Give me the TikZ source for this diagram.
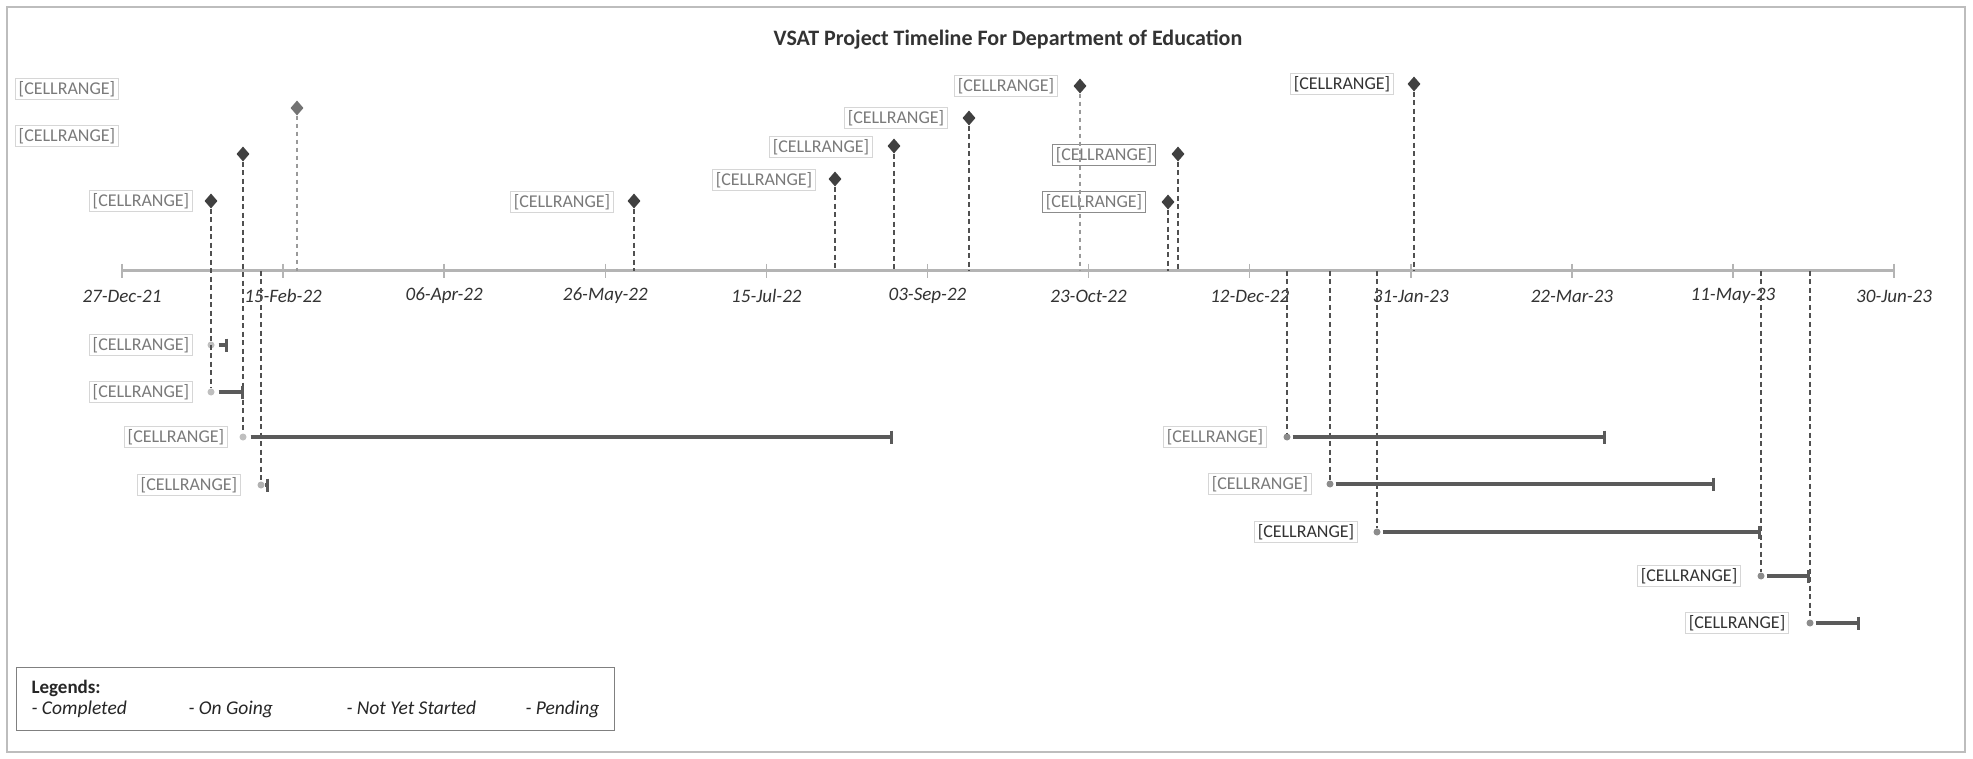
\documentclass[tikz,border=0pt]{standalone}
\usepackage{fontspec}
\setmainfont{Carlito}
\usetikzlibrary{shapes.geometric,arrows.meta}
\definecolor{axisgray}{HTML}{B4B4B4}
\definecolor{framegray}{HTML}{BDBDBD}
\definecolor{dropgray}{HTML}{505050}
\definecolor{bargray}{HTML}{5A5A5A}
\definecolor{celltext}{HTML}{7A7A7A}
\definecolor{cellframe}{HTML}{D6D6D6}
\begin{document}
\begin{tikzpicture}[x=1pt,y=-1pt,
  cellbox/.style={draw=cellframe, line width=0.8pt, inner sep=3pt, text=celltext,
    font=\fontsize{18}{20}\selectfont},
  cellboxdark/.style={cellbox, draw=black!45},
  ticklab/.style={font=\fontsize{19}{21}\selectfont\itshape, text=black!80},
  diamondmk/.style={diamond, fill=black!75, draw=none, minimum width=13pt,
    minimum height=15pt, inner sep=0pt},
  dropline/.style={draw=dropgray, line width=1.5pt, dash pattern=on 5pt off 3.5pt},
  droplight/.style={draw=black!40, line width=1.3pt, dash pattern=on 4pt off 4pt},
  startmk/.style={circle, fill=black!45, draw=none, minimum size=7pt, inner sep=0pt},
  barline/.style={draw=bargray, line width=3.5pt, -{Bar[width=13pt,line width=3pt]}},
  legtext/.style={font=\fontsize{19.5}{22}\selectfont\itshape, text=black!85, anchor=base west},
]
\useasboundingbox (0,0) rectangle (1973,759);
\fill[white] (0,0) rectangle (1973,759);
% outer frame
\draw[framegray, line width=1.2pt] (7,7) rectangle (1965,752);

% title
\node[font=\fontsize{22}{26}\selectfont\bfseries, text=black!80] (title) at (1008,40)
  {VSAT Project Timeline For Department of Education};

% axis
\coordinate (axL) at (122,271);
\coordinate (axR) at (1894,271);
\draw[axisgray, line width=3pt] (axL) -- (axR);
\foreach \i/\d in {0/27-Dec-21,1/15-Feb-22,2/06-Apr-22,3/26-May-22,4/15-Jul-22,5/03-Sep-22,
                   6/23-Oct-22,7/12-Dec-22,8/31-Jan-23,9/22-Mar-23,10/11-May-23,11/30-Jun-23}{
  \pgfmathsetmacro{\xx}{122+161.1*\i}
  \draw[axisgray, line width=1.5pt] (\xx,264) -- (\xx,278);
  \node[ticklab] (t\i) at (\xx,296) {\d};
}

% axis anchor points for drop lines
\foreach \n/\x in {aa/297,ad/634,ae/835,af/894,ag/969,ah/1080,ai/1178,aj/1168,ak/1414,
                   ard/261,are/1287,arf/1330,arg/1377,arh/1761,ari/1810}{
  \coordinate (\n) at (\x,271);
}

% top labels
\node[cellbox] (l1) at (67,89) {[CELLRANGE]};
\node[cellbox] (l2) at (67,136) {[CELLRANGE]};
\node[cellbox] (l3) at (141,201) {[CELLRANGE]};
\node[cellbox] (l4) at (562,202) {[CELLRANGE]};
\node[cellbox] (l5) at (764,180) {[CELLRANGE]};
\node[cellbox] (l6) at (821,147) {[CELLRANGE]};
\node[cellbox] (l7) at (896,118) {[CELLRANGE]};
\node[cellbox] (l8) at (1006,86) {[CELLRANGE]};
\node[cellboxdark] (l9) at (1104,155) {[CELLRANGE]};
\node[cellboxdark] (l10) at (1094,202) {[CELLRANGE]};
\node[cellbox, text=black!80] (l11) at (1342,84) {[CELLRANGE]};

% diamonds
\node[diamondmk, fill=black!55] (da) at (297,108) {};
\node[diamondmk] (db) at (243,154) {};
\node[diamondmk] (dc) at (211,201) {};
\node[diamondmk] (dd) at (634,201) {};
\node[diamondmk] (de) at (835,179) {};
\node[diamondmk] (df) at (894,146) {};
\node[diamondmk] (dg) at (969,118) {};
\node[diamondmk] (dh) at (1080,86) {};
\node[diamondmk] (di) at (1178,154) {};
\node[diamondmk] (dj) at (1168,202) {};
\node[diamondmk] (dk) at (1414,84) {};

% bottom labels
\node[cellbox] (ra) at (141,345) {[CELLRANGE]};
\node[cellbox] (rb) at (141,392) {[CELLRANGE]};
\node[cellbox] (rc) at (176,437) {[CELLRANGE]};
\node[cellbox] (rd) at (189,485) {[CELLRANGE]};
\node[cellbox] (re) at (1215,437) {[CELLRANGE]};
\node[cellbox] (rf) at (1260,484) {[CELLRANGE]};
\node[cellbox, text=black!80] (rg) at (1306,532) {[CELLRANGE]};
\node[cellbox, text=black!80] (rh) at (1689,576) {[CELLRANGE]};
\node[cellbox, text=black!80] (ri) at (1737,623) {[CELLRANGE]};

% start markers
\node[startmk, fill=black!25] (sa) at (211,345) {};
\node[startmk, fill=black!25] (sb) at (211,392) {};
\node[startmk, fill=black!25] (sc) at (243,437) {};
\node[startmk, fill=black!30] (sd) at (261,485) {};
\node[startmk] (se) at (1287,437) {};
\node[startmk] (sf) at (1330,484) {};
\node[startmk] (sg) at (1377,532) {};
\node[startmk] (sh) at (1761,576) {};
\node[startmk] (si) at (1810,623) {};

% end points
\coordinate (ea) at (228,345);
\coordinate (eb) at (244,392);
\coordinate (ec) at (893,437);
\coordinate (ed) at (269,485);
\coordinate (ee) at (1606,437);
\coordinate (ef) at (1715,484);
\coordinate (eg) at (1761,532);
\coordinate (eh) at (1810,576);
\coordinate (ei) at (1860,623);

% drop lines
\draw[droplight] (da.south) -- (aa);
\draw[dropline] (db.south) -- (sc.north);
\draw[dropline] (dc.south) -- (sb.north);
\draw[dropline] (dd.south) -- (ad);
\draw[dropline] (de.south) -- (ae);
\draw[dropline] (df.south) -- (af);
\draw[dropline] (dg.south) -- (ag);
\draw[droplight] (dh.south) -- (ah);
\draw[dropline] (di.south) -- (ai);
\draw[dropline] (dj.south) -- (aj);
\draw[dropline] (dk.south) -- (ak);
\draw[dropline] (ard) -- (sd.north);
\draw[dropline] (are) -- (se.north);
\draw[dropline] (arf) -- (sf.north);
\draw[dropline] (arg) -- (sg.north);
\draw[dropline] (arh) -- (sh.north);
\draw[dropline] (ari) -- (si.north);

% bars
\draw[barline] ([xshift=4pt]sa.east) -- (ea);
\draw[barline] ([xshift=4pt]sb.east) -- (eb);
\draw[barline] ([xshift=4pt]sc.east) -- (ec);
\draw[barline] (sd.east) -- (ed);
\draw[barline] ([xshift=2pt]se.east) -- (ee);
\draw[barline] ([xshift=2pt]sf.east) -- (ef);
\draw[barline] ([xshift=2pt]sg.east) -- (eg);
\draw[barline] ([xshift=2pt]sh.east) -- (eh);
\draw[barline] ([xshift=2pt]si.east) -- (ei);

% legend
\node[draw=black!50, line width=1pt, minimum width=598pt, minimum height=63pt,
  inner sep=0pt, anchor=north west] (legend) at (16,667) {};
\node[font=\fontsize{19}{22}\selectfont\bfseries, text=black!85, anchor=base west] (leg0) at (28,693) {Legends:};
\node[legtext] (leg1) at (28,714) {- Completed};
\node[legtext] (leg2) at (185,714) {- On Going};
\node[legtext] (leg3) at (343,714) {- Not Yet Started};
\node[legtext] (leg4) at (522,714) {- Pending};
\end{tikzpicture}
\end{document}
